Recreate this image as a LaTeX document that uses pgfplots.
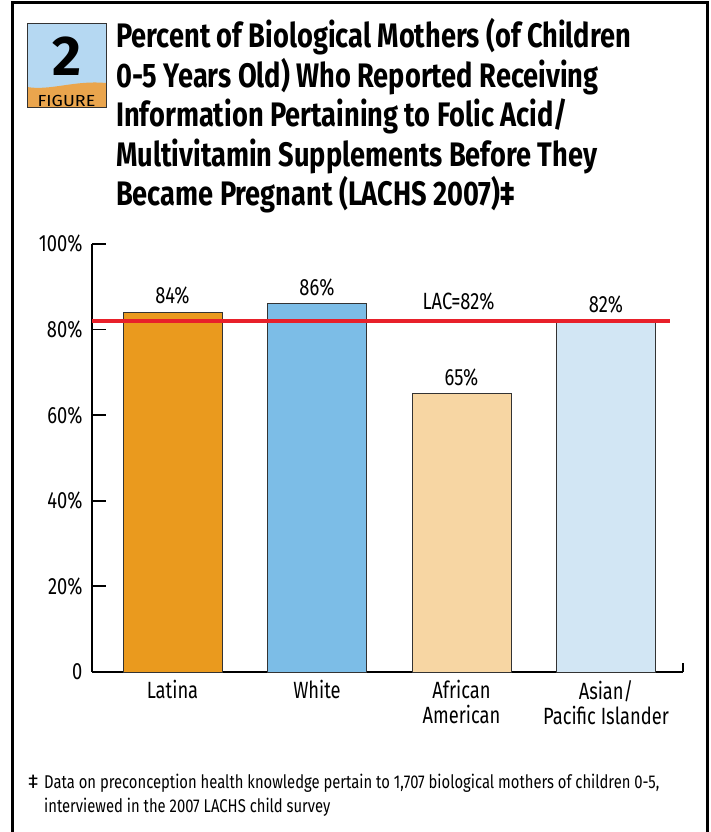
\documentclass[border=0pt]{standalone}
\usepackage{fontspec}
\setmainfont{Fira Sans}[FakeStretch=0.78]
\newfontfamily\digitfont{Fira Sans}
\newfontfamily\titlefont{Fira Sans}[FakeStretch=0.8]
\newfontfamily\badgefont{Fira Sans}[FakeStretch=1.12]
\newfontfamily\notefont{Fira Sans}[FakeStretch=0.8]
\usepackage{pgfplots}
\pgfplotsset{compat=1.18}

\definecolor{barLatina}{HTML}{EA9A1E}
\definecolor{barWhite}{HTML}{7CBDE7}
\definecolor{barAfAm}{HTML}{F7D6A3}
\definecolor{barAsian}{HTML}{D2E6F4}
\definecolor{lacred}{HTML}{E8202A}
\definecolor{badgeblue}{HTML}{B5D8F2}
\definecolor{badgeorange}{HTML}{EAA54D}
\definecolor{edgegray}{HTML}{333333}

\begin{document}
\begin{tikzpicture}[x=1pt,y=1pt]
\useasboundingbox (0,0) rectangle (710,832);
% outer frame (open at the bottom)
\draw[line width=3pt] (12,0) -- (12,829.5) -- (707,829.5) -- (707,0);

% figure badge
\fill[badgeblue] (27,725) rectangle (106,809);
\fill[badgeorange] (27,725) -- (27,745) .. controls (50,741) and (75,752) .. (106,749) -- (106,725) -- cycle;
\draw[edgegray, line width=0.8pt] (27,725) rectangle (106,809);
\node[font=\digitfont\fontsize{56}{56}\selectfont\bfseries] at (67,776) {2};
\node[font=\badgefont\fontsize{16}{16}\selectfont] at (66.5,731.5) {FIGURE};

% title
\begin{scope}[every node/.style={anchor=base west, inner sep=0pt, font=\titlefont\fontsize{34}{39}\selectfont\bfseries}]
\node at (116,784) {Percent of Biological Mothers (of Children};
\node at (116,744.5) {0-5 Years Old) Who Reported Receiving};
\node at (116,705) {Information Pertaining to Folic Acid/};
\node at (116,665.5) {Multivitamin Supplements Before They};
\node at (116,626) {Became Pregnant (LACHS 2007)‡};
\end{scope}

\begin{axis}[
  at={(92pt,160pt)}, anchor=south west,
  scale only axis, width=591pt, height=428pt,
  xmin=-0.557, xmax=3.533, ymin=0, ymax=100,
  axis x line*=bottom, axis y line*=left,
  axis line style={-, line width=1.8pt, black},
  xtick={0,1,2,3},
  xticklabels={Latina, White, African\\American, Asian/\\Pacific Islander},
  xticklabel style={align=center, font=\fontsize{23.5}{25}\selectfont, yshift=-5pt},
  major x tick style={draw=none},
  ytick={0,20,40,60,80,100},
  yticklabels={0,20\%,40\%,60\%,80\%,100\%},
  yticklabel style={font=\fontsize{23.5}{25}\selectfont, xshift=-6pt},
  major y tick style={black, line width=1.8pt},
  tick align=inside, major tick length=14pt,
  /pgf/number format/assume math mode=true,
  every node near coord/.style={font=\fontsize{23.5}{25}\selectfont, black, yshift=4pt},
  clip=false,
]
\addplot[ybar, bar shift=0pt, bar width=99pt, fill=barLatina, draw=edgegray, line width=0.9pt,
  nodes near coords={\pgfmathprintnumber{\pgfplotspointmeta}\%}] coordinates {(0,84)};
\addplot[ybar, bar shift=0pt, bar width=99pt, fill=barWhite, draw=edgegray, line width=0.9pt,
  nodes near coords={\pgfmathprintnumber{\pgfplotspointmeta}\%}] coordinates {(1,86)};
\addplot[ybar, bar shift=0pt, bar width=99pt, fill=barAfAm, draw=edgegray, line width=0.9pt,
  nodes near coords={\pgfmathprintnumber{\pgfplotspointmeta}\%}] coordinates {(2,65)};
\addplot[ybar, bar shift=0pt, bar width=99pt, fill=barAsian, draw=edgegray, line width=0.9pt,
  nodes near coords={\pgfmathprintnumber{\pgfplotspointmeta}\%}] coordinates {(3,82)};
% county average reference line
\addplot[lacred, line width=3.5pt, no marks] coordinates {(-0.557,82) (3.443,82)};
\node[font=\fontsize{23.5}{25}\selectfont, anchor=south, inner sep=0pt] at (axis cs:1.98,82) [yshift=11pt] {LAC=82\%};
% closing tick at the end of the baseline
\draw[line width=1.8pt] (axis cs:3.533,0) -- ++(0pt,9pt);
\end{axis}

% footnote
\node[anchor=base west, inner sep=0pt, font=\digitfont\fontsize{20}{20}\selectfont] at (28,43) {‡};
\begin{scope}[every node/.style={anchor=base west, inner sep=0pt, font=\notefont\fontsize{18.5}{20}\selectfont}]
\node at (44,43) {Data on preconception health knowledge pertain to 1,707 biological mothers of children 0-5,};
\node at (44,19) {interviewed in the 2007 LACHS child survey};
\end{scope}
\end{tikzpicture}
\end{document}
